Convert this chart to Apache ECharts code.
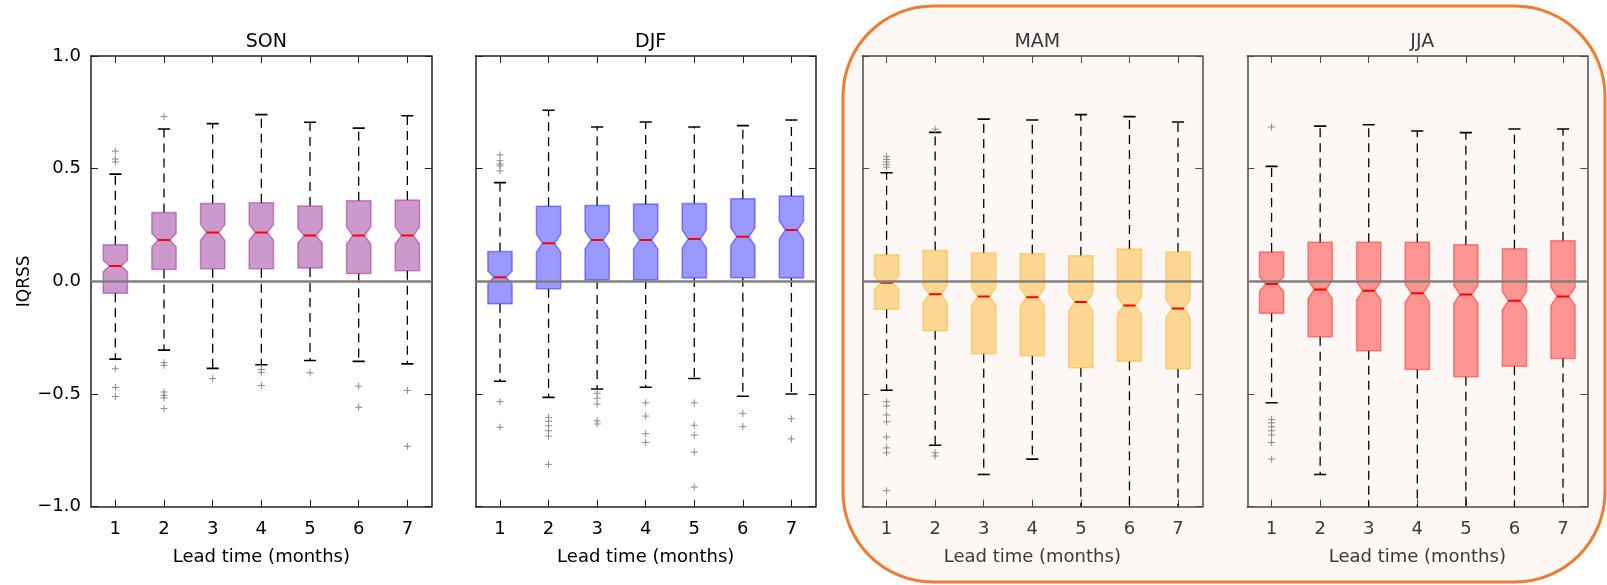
<!DOCTYPE html>
<html>
<head>
<meta charset="utf-8">
<script src="https://cdn.jsdelivr.net/npm/echarts@6/dist/echarts.min.js"></script>
<style>
  html, body { margin: 0; padding: 0; background: #fff; }
  #chart { width: 1607px; height: 585px; }
</style>
</head>
<body>
<div id="chart"></div>
<script>
// lead time categories
const leadTimes = ["1", "2", "3", "4", "5", "6", "7"];
const seasons = ["SON", "DJF", "MAM", "JJA"];
const yTicks = [-1.0, -0.5, 0.0, 0.5, 1.0];

// SON
const sonHigh = [0.476, 0.676, 0.700, 0.740, 0.706, 0.680, 0.735];
const sonQ3 = [0.162, 0.306, 0.346, 0.349, 0.334, 0.358, 0.361];
const sonMed = [0.068, 0.183, 0.217, 0.217, 0.203, 0.203, 0.203];
const sonQ1 = [-0.053, 0.053, 0.056, 0.056, 0.059, 0.035, 0.047];
const sonLow = [-0.345, -0.305, -0.386, -0.370, -0.351, -0.355, -0.366];
const sonOutliers = [
  [0.578, 0.543, 0.530, -0.388, -0.471, -0.511],
  [0.731, -0.361, -0.373, -0.491, -0.506, -0.517, -0.565],
  [-0.431],
  [-0.391, -0.404, -0.462],
  [-0.406],
  [-0.465, -0.559],
  [-0.484, -0.732],
];

// DJF
const djfHigh = [0.438, 0.759, 0.685, 0.707, 0.685, 0.691, 0.716];
const djfQ3 = [0.133, 0.333, 0.337, 0.343, 0.346, 0.367, 0.379];
const djfMed = [0.018, 0.169, 0.183, 0.183, 0.188, 0.198, 0.228];
const djfQ1 = [-0.099, -0.033, 0.006, 0.006, 0.015, 0.016, 0.015];
const djfLow = [-0.443, -0.515, -0.478, -0.470, -0.431, -0.510, -0.500];
const djfOutliers = [
  [0.561, 0.535, 0.521, 0.512, 0.490, -0.534, -0.647],
  [-0.604, -0.621, -0.641, -0.663, -0.687, -0.812],
  [-0.497, -0.519, -0.545, -0.619, -0.633],
  [-0.539, -0.598, -0.676, -0.715],
  [-0.539, -0.639, -0.682, -0.758, -0.913],
  [-0.586, -0.645],
  [-0.610, -0.699],
];

// MAM
const mamHigh = [0.482, 0.661, 0.720, 0.716, 0.740, 0.731, 0.707];
const mamQ3 = [0.118, 0.137, 0.126, 0.123, 0.114, 0.143, 0.130];
const mamMed = [-0.006, -0.057, -0.067, -0.071, -0.092, -0.107, -0.120];
const mamQ1 = [-0.124, -0.219, -0.321, -0.330, -0.383, -0.355, -0.388];
const mamLow = [-0.483, -0.727, -0.857, -0.789, -1.0, -1.0, -1.0];
const mamOutliers = [
  [0.553, 0.541, 0.530, 0.519, 0.507, -0.534, -0.553, -0.593, -0.623, -0.691, -0.739, -0.761, -0.929],
  [0.675, -0.761, -0.775],
  [], [], [], [], [],
];

// JJA
const jjaHigh = [0.510, 0.689, 0.695, 0.667, 0.660, 0.676, 0.676];
const jjaQ3 = [0.130, 0.173, 0.173, 0.173, 0.162, 0.145, 0.180];
const jjaMed = [-0.012, -0.036, -0.042, -0.053, -0.058, -0.086, -0.067];
const jjaQ1 = [-0.142, -0.246, -0.308, -0.391, -0.423, -0.377, -0.342];
const jjaLow = [-0.539, -0.857, -1.0, -1.0, -1.0, -1.0, -1.0];
const jjaOutliers = [
  [0.685, -0.613, -0.628, -0.645, -0.663, -0.682, -0.715, -0.789],
  [], [], [], [], [], [],
];

const panels = [
  { high: sonHigh, q3: sonQ3, med: sonMed, q1: sonQ1, low: sonLow, out: sonOutliers, color: "128,0,128" },
  { high: djfHigh, q3: djfQ3, med: djfMed, q1: djfQ1, low: djfLow, out: djfOutliers, color: "0,0,255" },
  { high: mamHigh, q3: mamQ3, med: mamMed, q1: mamQ1, low: mamLow, out: mamOutliers, color: "255,165,0" },
  { high: jjaHigh, q3: jjaQ3, med: jjaMed, q1: jjaQ1, low: jjaLow, out: jjaOutliers, color: "255,0,0" },
];

const FONT = "DejaVu Sans";
const gridLefts = [91, 475.7, 862.3, 1247.3];
const gridWidths = [340.7, 340, 340, 340];
const yMin = yTicks[0];
const yMax = yTicks[yTicks.length - 1];

const chart = echarts.init(document.getElementById("chart"));

const grid = [];
const xAxis = [];
const yAxis = [];
const series = [];
const title = [];

panels.forEach((p, i) => {
  const right = i >= 2;
  const textColor = right ? "#3a3a3a" : "#000";
  const frameColor = right ? "#4a4a4a" : "#222";
  grid.push({ left: gridLefts[i], top: 56, width: gridWidths[i], height: 450.7, containLabel: false });

  title.push({
    text: seasons[i],
    left: gridLefts[i] + gridWidths[i] / 2,
    top: 28,
    textAlign: "center",
    textStyle: { fontFamily: FONT, fontSize: 19, fontWeight: "normal", color: textColor },
  });

  const lineStyle = { color: frameColor, width: 1.5 };
  const tick = { show: true, inside: true, length: 7, alignWithLabel: true, lineStyle: { color: frameColor, width: 1 } };

  // bottom and top x axes
  xAxis.push({
    gridIndex: i,
    type: "category",
    data: leadTimes,
    position: "bottom",
    axisLine: { show: true, onZero: false, lineStyle },
    axisTick: tick,
    axisLabel: { margin: 14, fontFamily: FONT, fontSize: 18, color: textColor },
    name: "Lead time (months)",
    nameLocation: "middle",
    nameGap: 42,
    nameTextStyle: { fontFamily: FONT, fontSize: 18, color: textColor },
  });
  xAxis.push({
    gridIndex: i,
    type: "category",
    data: leadTimes,
    position: "top",
    axisLine: { show: true, onZero: false, lineStyle },
    axisTick: tick,
    axisLabel: { show: false },
  });

  // left and right y axes
  yAxis.push({
    gridIndex: i,
    type: "value",
    min: yMin,
    max: yMax,
    interval: 0.5,
    position: "left",
    axisLine: { show: true, lineStyle },
    axisTick: { show: true, inside: true, length: 7, lineStyle: { color: frameColor, width: 1 } },
    splitLine: { show: false },
    axisLabel: {
      show: i === 0,
      margin: 10,
      fontFamily: FONT,
      fontSize: 18,
      color: textColor,
      formatter: (v) => v.toFixed(1).replace("-", "\u2212"),
    },
    name: i === 0 ? "IQRSS" : "",
    nameLocation: "middle",
    nameGap: 58,
    nameTextStyle: { fontFamily: FONT, fontSize: 17, color: textColor },
  });
  yAxis.push({
    gridIndex: i,
    type: "value",
    min: yMin,
    max: yMax,
    interval: 0.5,
    position: "right",
    axisLine: { show: true, lineStyle },
    axisTick: { show: true, inside: true, length: 7, lineStyle: { color: frameColor, width: 1 } },
    splitLine: { show: false },
    axisLabel: { show: false },
  });

  const boxData = leadTimes.map((_, k) => [k, p.q1[k], p.med[k], p.q3[k], p.low[k], p.high[k]]);
  const fill = "rgba(" + p.color + ",0.4)";

  series.push({
    type: "custom",
    xAxisIndex: i * 2,
    yAxisIndex: i * 2,
    data: boxData,
    encode: { x: 0, y: [1, 2, 3, 4, 5] },
    clip: true,
    z: 3,
    renderItem: (params, api) => {
      const x = api.value(0);
      const q1 = api.value(1), med = api.value(2), q3 = api.value(3);
      const lo = api.value(4), hi = api.value(5);
      const cx = api.coord([x, med])[0];
      const yy = (v) => api.coord([x, v])[1];
      const hw = api.size([1, 0])[0] * 0.25;
      const notch = Math.min(0.12 * (q3 - q1), 0.04);
      const L = cx - hw, R = cx + hw;
      const pts = [
        [L, yy(q1)], [L, yy(med - notch)], [cx - hw / 2, yy(med)], [L, yy(med + notch)], [L, yy(q3)],
        [R, yy(q3)], [R, yy(med + notch)], [cx + hw / 2, yy(med)], [R, yy(med - notch)], [R, yy(q1)],
      ];
      const dash = { stroke: "#000", lineWidth: 1.3, lineDash: [9, 6] };
      const cap = { stroke: "#000", lineWidth: 1.6 };
      const children = [
        { type: "line", shape: { x1: cx, y1: yy(q3), x2: cx, y2: yy(hi) }, style: dash },
        { type: "line", shape: { x1: cx, y1: yy(q1), x2: cx, y2: yy(lo) }, style: dash },
        { type: "line", shape: { x1: cx - hw / 2, y1: yy(hi), x2: cx + hw / 2, y2: yy(hi) }, style: cap },
      ];
      // whiskers running past the axis floor have no visible cap
      if (lo > yMin) {
        children.push({ type: "line", shape: { x1: cx - hw / 2, y1: yy(lo), x2: cx + hw / 2, y2: yy(lo) }, style: cap });
      }
      children.push(
        { type: "polygon", shape: { points: pts }, style: { fill: fill, stroke: fill, lineWidth: 1.5 } },
        { type: "line", shape: { x1: cx - hw / 2, y1: yy(med), x2: cx + hw / 2, y2: yy(med) }, style: { stroke: "#ff0000", lineWidth: 2 } }
      );
      return { type: "group", children };
    },
    markLine: {
      silent: true,
      symbol: "none",
      label: { show: false },
      data: [{ yAxis: 0 }],
      lineStyle: { color: "#808080", width: 2.5, type: "solid" },
    },
  });

  const outData = [];
  p.out.forEach((vals, k) => vals.forEach((v) => outData.push([k, v])));
  series.push({
    type: "custom",
    xAxisIndex: i * 2,
    yAxisIndex: i * 2,
    data: outData,
    encode: { x: 0, y: 1 },
    z: 4,
    renderItem: (params, api) => {
      const c = api.coord([api.value(0), api.value(1)]);
      const s = 3.5;
      const st = { stroke: "#8a8a8a", lineWidth: 1 };
      return {
        type: "group",
        children: [
          { type: "line", shape: { x1: c[0] - s, y1: c[1], x2: c[0] + s, y2: c[1] }, style: st },
          { type: "line", shape: { x1: c[0], y1: c[1] - s, x2: c[0], y2: c[1] + s }, style: st },
        ],
      };
    },
  });
});

chart.setOption({
  animation: false,
  backgroundColor: "#fff",
  title,
  grid,
  xAxis,
  yAxis,
  series,
  graphic: [
    {
      type: "rect",
      z: -10,
      shape: { x: 843, y: 6, width: 762, height: 576, r: 90 },
      style: { fill: "#fdf8f5", stroke: "#ed7d31", lineWidth: 3 },
    },
  ],
});
</script>
</body>
</html>
